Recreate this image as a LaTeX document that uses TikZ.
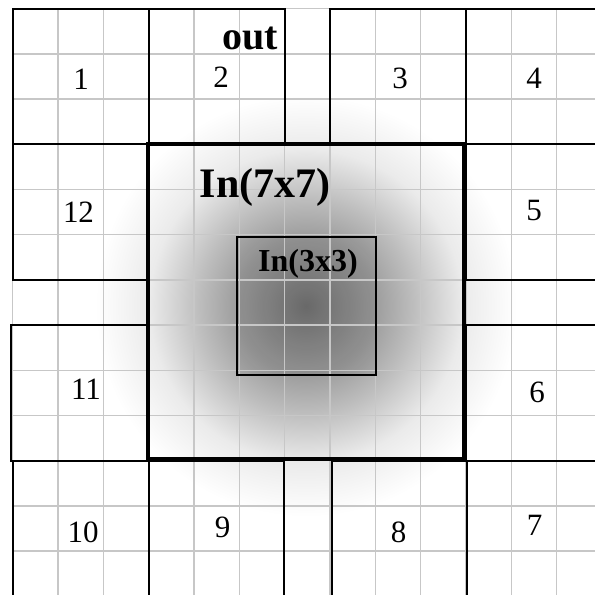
\documentclass[tikz,border=0pt]{standalone}
\usepackage{fontspec}
\setmainfont{Liberation Serif}
\pgfdeclareradialshading{glowshade}{\pgfpoint{0bp}{0bp}}{color(0bp)=(black!55); color(70bp)=(black!38); color(106bp)=(black!26); color(156bp)=(black!8); color(210bp)=(white)}
\tikzset{
  gridline/.style={draw=black!22, line width=1.5pt},
  boxline/.style={draw=black, line width=2pt},
  thickline/.style={draw=black, line width=4pt},
  numlabel/.style={font=\fontsize{31}{31}\selectfont, inner sep=0pt, anchor=base},
  outlabel/.style={font=\fontsize{40}{40}\selectfont\bfseries, inner sep=0pt, anchor=base},
  biglabel/.style={font=\fontsize{42}{42}\selectfont\bfseries, inner sep=0pt, anchor=base},
  smalllabel/.style={font=\fontsize{32}{32}\selectfont\bfseries, inner sep=0pt, anchor=base}
}
\begin{document}
\begin{tikzpicture}[x=1pt,y=-1pt]
\path[use as bounding box, clip] (0,0) rectangle (595,595);
\fill[white] (0,0) rectangle (595,595);
\node[inner sep=0pt, outer sep=0pt] (glow) at (306,306) {\pgfuseshading{glowshade}};
\begin{scope}[shift={(12.7pt,-8.7pt)}, x=45.33pt, y=-45.2pt]
  \fill[black, fill opacity=0.08] (4.94,5.06) rectangle (8.01,8.1);
  \foreach \i in {0,...,12} {\draw[gridline] (\i,0) -- (\i,13.3);}
  \foreach \j in {0,...,12} {\draw[gridline] (0,\j) -- (13.2,\j);}
  % top row
  \draw[boxline] (0,0) rectangle (3,3);
  \draw[boxline] (3,0) rectangle (6,3);
  \draw[boxline] (7,0) rectangle (10,3);
  \draw[boxline] (13.2,0) -| (10,3) -- (13.2,3);
  % second band
  \draw[boxline] (0,3) rectangle (3,6);
  \draw[boxline] (13.2,3) -| (10,6) -- (13.2,6);
  % third band
  \draw[boxline] (-0.04,7) rectangle (2.97,10);
  \draw[boxline] (13.2,7) -| (10,10) -- (13.2,10);
  % bottom row
  \draw[boxline] (0,13.3) |- (3,10) -- (3,13.3);
  \draw[boxline] (3,13.3) |- (5.98,10) -- (5.98,13.3);
  \draw[boxline] (7.05,13.3) |- (10.02,10) -- (10.02,13.3);
  \draw[boxline] (10.02,13.3) |- (13.2,10);
  % inner boxes
  \draw[thickline] (2.98,3) rectangle (9.95,9.97);
  \draw[boxline] (4.94,5.06) rectangle (8.01,8.1);
\end{scope}
\node[outlabel] (out) at (250,49) {out};
\node[numlabel] (n1) at (81,89) {1};
\node[numlabel] (n2) at (221,87) {2};
\node[numlabel] (n3) at (400,88) {3};
\node[numlabel] (n4) at (534,88) {4};
\node[numlabel] (n12) at (78.5,222) {12};
\node[numlabel] (n5) at (534,220) {5};
\node[numlabel] (n11) at (86,399) {11};
\node[numlabel] (n6) at (537,402) {6};
\node[numlabel] (n10) at (83,542) {10};
\node[numlabel] (n9) at (222.5,537) {9};
\node[numlabel] (n8) at (398.5,542) {8};
\node[numlabel] (n7) at (534.5,535) {7};
\node[biglabel] (in7) at (265,197) {In(7x7)};
\node[smalllabel] (in3) at (308,271) {In(3x3)};
\end{tikzpicture}
\end{document}
